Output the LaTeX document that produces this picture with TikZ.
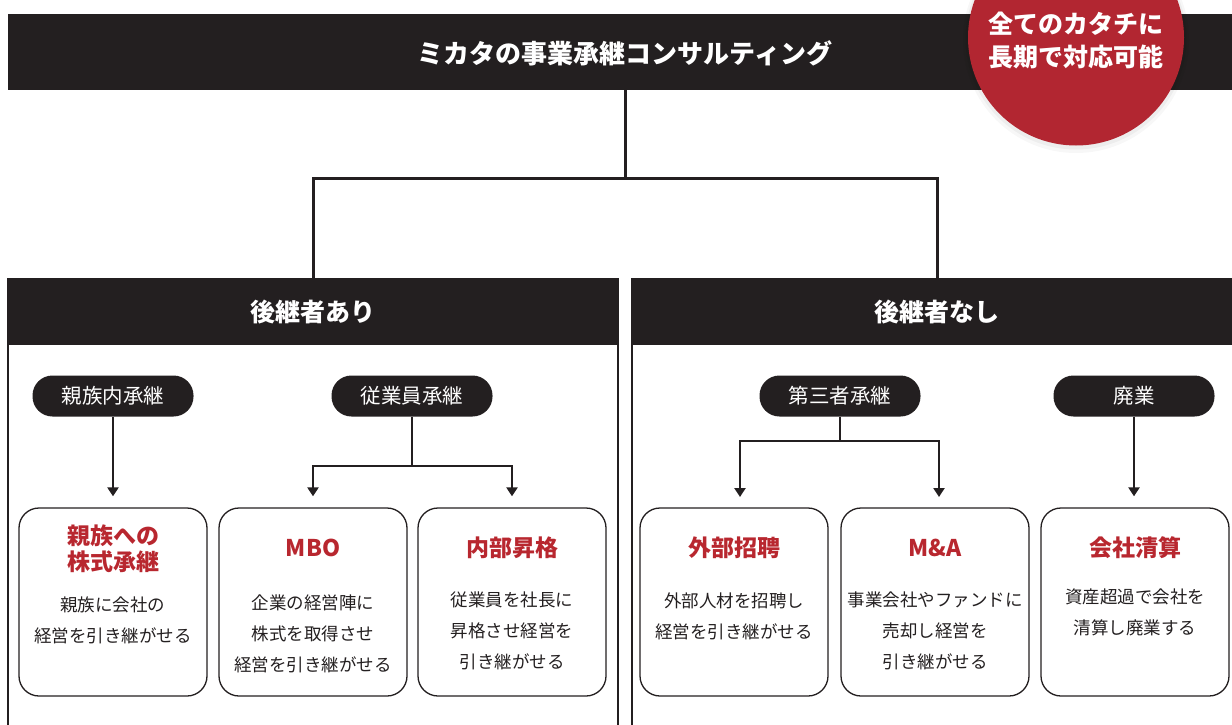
\documentclass[tikz,border=0pt]{standalone}
\usepackage{fontspec}
\setmainfont{Noto Sans CJK JP}
\usetikzlibrary{arrows.meta}
\definecolor{ink}{HTML}{231F20}
\definecolor{brandred}{HTML}{B22631}
\definecolor{titlered}{HTML}{B8272F}
\tikzset{
  barbox/.style={fill=ink, inner sep=0pt},
  bartext/.style={text=white, font=\bfseries\fontsize{25}{30}\selectfont},
  pill/.style={fill=ink, rounded corners=20pt, minimum width=161pt, minimum height=41pt, inner sep=0pt, text=white, font=\fontsize{20.5}{24}\selectfont},
  card/.style={draw=ink, line width=1.3pt, rounded corners=20pt, minimum width=188pt, minimum height=188pt, inner sep=0pt},
  ttl/.style={text=titlered, font=\bfseries\fontsize{23}{28}\selectfont, align=center},
  body/.style={text=ink, font=\fontsize{17.5}{31}\selectfont, align=center},
  link/.style={draw=ink, line width=2.5pt},
  arr/.style={link, -{Triangle[width=11pt,length=9pt]}, shorten >=11pt},
  frame/.style={draw=ink, line width=1.4pt}
}
\begin{document}
\begin{tikzpicture}[x=1pt,y=-1pt]
\useasboundingbox (0,0) rectangle (1232,725);
\clip (0,0) rectangle (1232,725);

% top bar
\node[barbox, minimum width=1240pt, minimum height=76pt, anchor=north west] (topbar) at (8,14) {};
\node[bartext, font=\bfseries\fontsize{26}{30}\selectfont] (title) at (625,53) {ミカタの事業承継コンサルティング};

% red circle with soft shadow
\fill[black, opacity=0.03] (1076,40) circle (113);
\fill[black, opacity=0.04] (1076,39) circle (110.5);
\fill[brandred] (1076,37.5) circle (108);
\node[text=white, font=\bfseries\fontsize{25}{33}\selectfont, align=center] (badge) at (1076,40) {全てのカタチに\\長期で対応可能};

% section frames
\draw[frame] (8,278) -- (8,730);
\draw[frame] (618,278) -- (618,730);
\draw[frame] (632,278) -- (632,730);
\node[barbox, minimum width=611pt, minimum height=67pt, anchor=north west] (secA) at (7.3,278) {};
\node[barbox, minimum width=611pt, minimum height=67pt, anchor=north west] (secB) at (631.3,278) {};
\node[bartext] at (secA) {後継者あり};
\node[bartext] at (secB) {後継者なし};

% top connector
\coordinate (c0) at (625,90);
\coordinate (c1) at (625,178);
\draw[link, line width=3pt] (c0) -- (c1);
\draw[link, line width=3pt] (c1) -| (secA.north);
\draw[link, line width=3pt] (c1) -| (secB.north);

% pills
\node[pill] (pA1) at (113,396) {親族内承継};
\node[pill] (pA2) at (412,396) {従業員承継};
\node[pill] (pB1) at (840,396) {第三者承継};
\node[pill] (pB2) at (1134,396) {廃業};

% cards
\node[card] (k1) at (113,602) {};
\node[card] (k2) at (313,602) {};
\node[card] (k3) at (512,602) {};
\node[card] (k4) at (734,602) {};
\node[card] (k5) at (935,602) {};
\node[card] (k6) at (1135,602) {};

% card texts
\node[ttl] at (113,549) {親族への\\[-2pt]株式承継};
\node[ttl] at (313,548) {MBO};
\node[ttl] at (512,548) {内部昇格};
\node[ttl] at (734,548) {外部招聘};
\node[ttl] at (935,548) {M\&A};
\node[ttl] at (1135,548) {会社清算};

\node[body] at (113,620) {親族に会社の\\経営を引き継がせる};
\node[body] at (313,634) {企業の経営陣に\\株式を取得させ\\経営を引き継がせる};
\node[body] at (512,631) {従業員を社長に\\昇格させ経営を\\引き継がせる};
\node[body] at (734,616) {外部人材を招聘し\\経営を引き継がせる};
\node[body] at (935,631) {事業会社やファンドに\\売却し経営を\\引き継がせる};
\node[body] at (1135,612) {資産超過で会社を\\清算し廃業する};

% connectors
\draw[arr] (pA1.south) -- (k1.north);
\coordinate (jA) at (412,466);
\draw[link] (pA2.south) -- (jA);
\draw[arr] (jA) -| (k2.north);
\draw[arr] (jA) -| (k3.north);

\coordinate (jB) at (840,441);
\coordinate (tB1) at (740,508);
\coordinate (tB2) at (939,508);
\draw[link] (pB1.south) -- (jB);
\draw[arr] (jB) -| (tB1);
\draw[arr] (jB) -| (tB2);
\draw[arr] (pB2.south) -- (pB2.south |- k6.north);
\end{tikzpicture}
\end{document}
